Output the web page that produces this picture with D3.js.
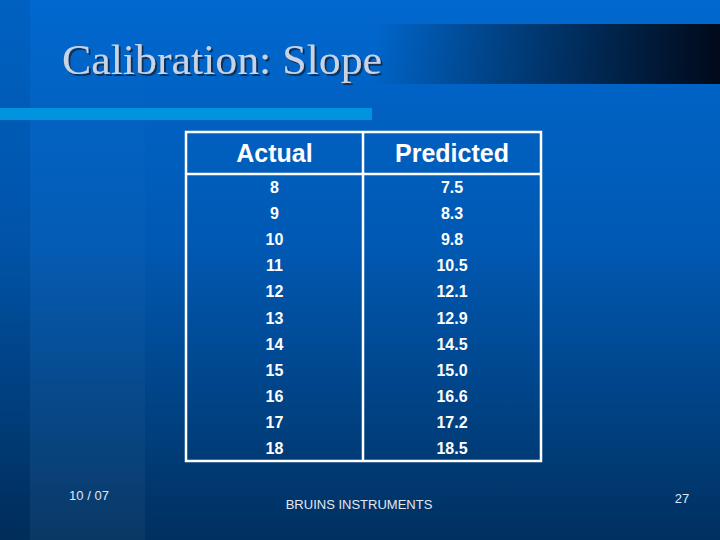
<!DOCTYPE html><html><head><meta charset="utf-8"><script src="https://cdn.jsdelivr.net/npm/d3@7"></script>
<style>body{margin:0;overflow:hidden}</style></head><body><svg id="c" width="720" height="540"></svg>
<script>
const columns=["Actual","Predicted"];
const actual=["8","9","10","11","12","13","14","15","16","17","18"];
const predicted=["7.5","8.3","9.8","10.5","12.1","12.9","14.5","15.0","16.6","17.2","18.5"];
const title="Calibration: Slope";
const svg=d3.select("#c");
const defs=svg.append("defs");
const bg=defs.append("linearGradient").attr("id","bg").attr("x1",0).attr("y1",0).attr("x2",0).attr("y2",1);
bg.append("stop").attr("offset",0).attr("stop-color","#0068cf");
bg.append("stop").attr("offset",0.45).attr("stop-color","#0059b3");
bg.append("stop").attr("offset",1).attr("stop-color","#00305f");
const tb=defs.append("linearGradient").attr("id","tb");
tb.append("stop").attr("offset",0.52).attr("stop-color","#000").attr("stop-opacity",0);
tb.append("stop").attr("offset",1).attr("stop-color","#000a1a").attr("stop-opacity",1);
const strip=defs.append("linearGradient").attr("id","st").attr("x1",0).attr("y1",0).attr("x2",0).attr("y2",1);
strip.append("stop").attr("offset",0).attr("stop-color","#fff").attr("stop-opacity",0);
strip.append("stop").attr("offset",1).attr("stop-color","#fff").attr("stop-opacity",0.04);
const f=defs.append("filter").attr("id","sh");
f.append("feDropShadow").attr("dx",2).attr("dy",2).attr("stdDeviation",0.5).attr("flood-color","#10305a");
svg.append("rect").attr("width",720).attr("height",540).attr("fill","url(#bg)");
svg.append("rect").attr("x",0).attr("width",30).attr("height",540).attr("fill","#000").attr("opacity",0.06);
svg.append("rect").attr("x",30).attr("width",115).attr("height",540).attr("fill","url(#st)");
svg.append("rect").attr("x",0).attr("y",24).attr("width",720).attr("height",60).attr("fill","url(#tb)");
svg.append("rect").attr("x",0).attr("y",108).attr("width",372).attr("height",12).attr("fill","#0094de");
svg.append("text").attr("x",62).attr("y",74).attr("font-family","Liberation Serif").attr("font-size",42)
  .attr("fill","#c8d3e6").attr("filter","url(#sh)").attr("textLength",320).attr("lengthAdjust","spacingAndGlyphs").text(title);
const y=d3.scaleBand().domain(d3.range(actual.length)).range([174,461]);
const g=svg.append("g").attr("stroke","#fff").attr("stroke-width",2.5).attr("fill","none");
g.append("rect").attr("x",186).attr("y",132).attr("width",355).attr("height",329);
g.append("line").attr("x1",363).attr("x2",363).attr("y1",132).attr("y2",461);
g.append("line").attr("x1",186).attr("x2",541).attr("y1",174).attr("y2",174);
const cx=[274.5,452];
svg.selectAll("text.h").data(columns).join("text").attr("class","h").attr("x",(d,i)=>cx[i]).attr("y",162)
  .attr("text-anchor","middle").attr("font-family","Liberation Sans Narrow, Liberation Sans").attr("font-weight","bold").attr("font-size",25).attr("fill","#fff").text(d=>d);
[actual,predicted].forEach((arr,j)=>{
  svg.selectAll("text.c"+j).data(arr).join("text").attr("x",cx[j]).attr("y",(d,i)=>y(i)+y.bandwidth()/2+6)
   .attr("text-anchor","middle").attr("font-family","Liberation Sans").attr("font-weight","bold").attr("font-size",16).attr("fill","#fff").text(d=>d);
});
svg.append("text").attr("x",89).attr("y",500).attr("text-anchor","middle").attr("font-family","Liberation Sans").attr("font-size",13).attr("fill","#e0e8f4").text("10 / 07");
svg.append("text").attr("x",359).attr("y",509).attr("text-anchor","middle").attr("font-family","Liberation Sans").attr("font-size",13).attr("fill","#e0e8f4").text("BRUINS INSTRUMENTS");
svg.append("text").attr("x",682).attr("y",503).attr("text-anchor","middle").attr("font-family","Liberation Sans").attr("font-size",13).attr("fill","#e0e8f4").text("27");
</script></body></html>
